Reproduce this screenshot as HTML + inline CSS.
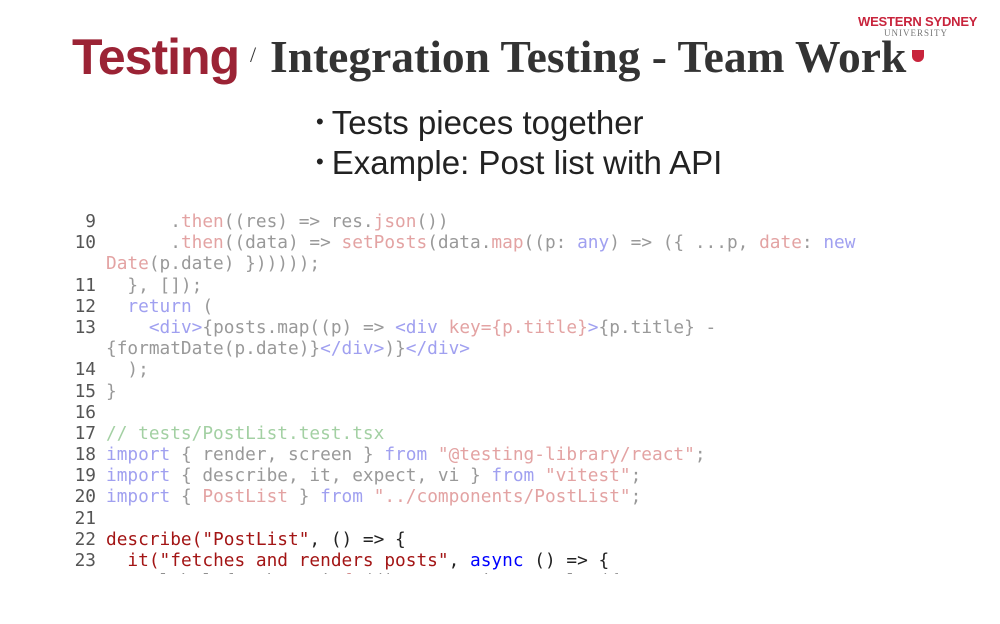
<!DOCTYPE html>
<html><head><meta charset="utf-8"><style>
body{margin:0;width:1000px;height:624px;background:#fff;position:relative;overflow:hidden;font-family:"Liberation Sans",sans-serif}
.t1{position:absolute;left:72px;top:28px;white-space:nowrap;color:#9b2335;font:bold 50px "Liberation Sans",sans-serif;letter-spacing:-1px}
.t2{position:absolute;left:250px;top:42px;font:22px "Liberation Serif",serif;color:#333}
.t3{position:absolute;left:270px;top:30px;white-space:nowrap;font:bold 45.5px "Liberation Serif",serif;color:#333}
.logo{position:absolute;left:858px;top:14px;color:#c8243c;font:bold 13px "Liberation Sans",sans-serif;letter-spacing:-0.2px}
.logo2{position:absolute;left:884px;top:28px;color:#777;font:9px "Liberation Serif",serif;letter-spacing:1px}
.shield{position:absolute;left:912px;top:50px;width:12px;height:12px;background:#c8243c;border-radius:0 0 6px 6px}
.b{position:absolute;left:316px;font-size:33px;color:#222;white-space:nowrap}
.b span{font-size:22px;position:relative;top:-5px;margin-right:8px}
.code{position:absolute;left:0;top:211px;width:1000px;height:363px;overflow:hidden;font-family:"DejaVu Sans Mono",monospace;font-size:17.8px;line-height:21.2px;color:#999}
.row{height:21.2px;position:relative;white-space:pre}
.n{position:absolute;left:0;width:96px;text-align:right;color:#555}
.c{position:absolute;left:106px}
.k{color:#a0a0f0}.p{color:#e3a3a3}.g{color:#a3d0a3}
.d{color:#a31515}.bl{color:#0000ff}.bk{color:#222}
</style></head><body>
<div class="t1">Testing</div>
<div class="t2">/</div>
<div class="t3">Integration Testing - Team Work</div>
<div class="logo">WESTERN SYDNEY</div>
<div class="logo2">UNIVERSITY</div>
<div class="shield"></div>
<div class="b" style="top:104px"><span>•</span>Tests pieces together</div>
<div class="b" style="top:144px"><span>•</span>Example: Post list with API</div>
<div class="code"><div class="row"><span class="n">9</span><span class="c">      .<span class="p">then</span>((res) =&gt; res.<span class="p">json</span>())</span></div><div class="row"><span class="n">10</span><span class="c">      .<span class="p">then</span>((data) =&gt; <span class="p">setPosts</span>(data.<span class="p">map</span>((p: <span class="k">any</span>) =&gt; ({ ...p, <span class="p">date</span>: <span class="k">new</span></span></div><div class="row"><span class="c"><span class="p">Date</span>(p.date) })))));</span></div><div class="row"><span class="n">11</span><span class="c">  }, []);</span></div><div class="row"><span class="n">12</span><span class="c">  <span class="k">return</span> (</span></div><div class="row"><span class="n">13</span><span class="c">    <span class="k">&lt;div&gt;</span>{posts.map((p) =&gt; <span class="k">&lt;div</span> <span class="p">key={p.title}</span><span class="k">&gt;</span>{p.title} -</span></div><div class="row"><span class="c">{formatDate(p.date)}<span class="k">&lt;/div&gt;</span>)}<span class="k">&lt;/div&gt;</span></span></div><div class="row"><span class="n">14</span><span class="c">  );</span></div><div class="row"><span class="n">15</span><span class="c">}</span></div><div class="row"><span class="n">16</span></div><div class="row"><span class="n">17</span><span class="c g">// tests/PostList.test.tsx</span></div><div class="row"><span class="n">18</span><span class="c"><span class="k">import</span> { render, screen } <span class="k">from</span> <span class="p">"@testing-library/react"</span>;</span></div><div class="row"><span class="n">19</span><span class="c"><span class="k">import</span> { describe, it, expect, vi } <span class="k">from</span> <span class="p">"vitest"</span>;</span></div><div class="row"><span class="n">20</span><span class="c"><span class="k">import</span> { <span class="p">PostList</span> } <span class="k">from</span> <span class="p">"../components/PostList"</span>;</span></div><div class="row"><span class="n">21</span></div><div class="row"><span class="n">22</span><span class="c bk"><span class="d">describe("PostList"</span>, () =&gt; {</span></div><div class="row"><span class="n">23</span><span class="c bk">  <span class="d">it("fetches and renders posts"</span>, <span class="bl">async</span> () =&gt; {</span></div><div class="row"><span class="n">24</span><span class="c bk">    global.fetch = vi.<span class="d">fn</span>(() =&gt; Promise.resolve({</span></div></div>
</body></html>
